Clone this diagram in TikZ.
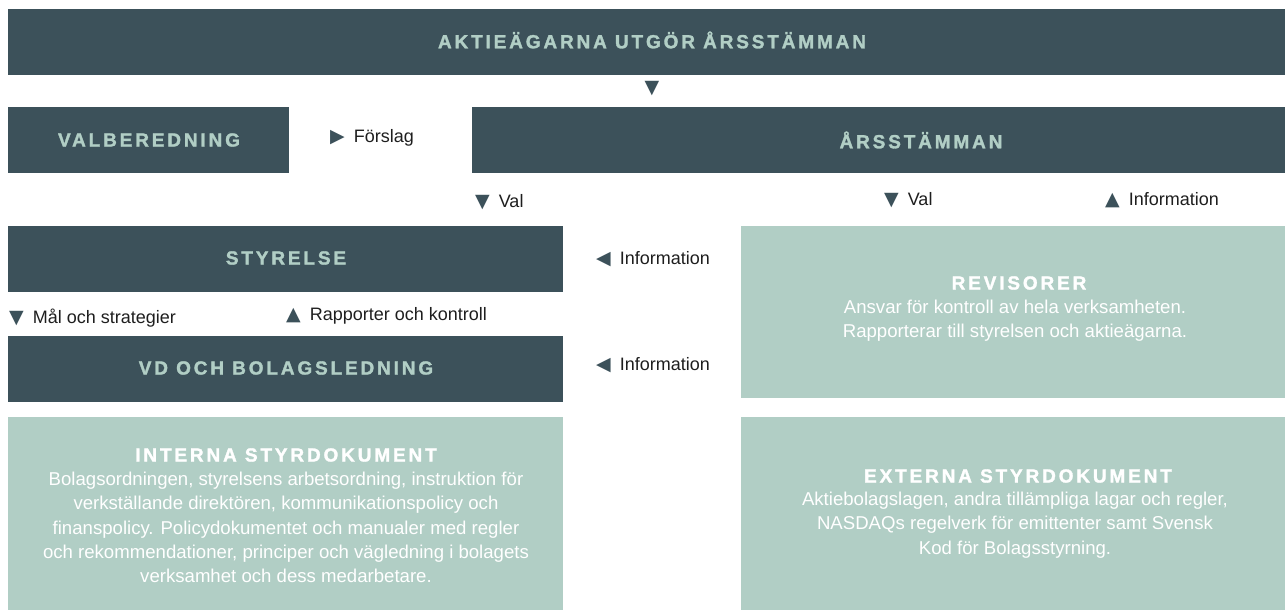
\documentclass[tikz,border=0pt]{standalone}
\usepackage{fontspec}
\setmainfont{Liberation Sans}
\newfontfamily\headfont[LetterSpace=15, FakeBold=1.6]{Liberation Sans Bold}
\newfontfamily\symfont{DejaVu Sans}
\definecolor{darkbox}{HTML}{3C515A}
\definecolor{lightbox}{HTML}{B1CEC5}
\definecolor{headlight}{HTML}{B1CEC5}
\definecolor{labeltext}{HTML}{1E1E1E}
\tikzset{
  darkrect/.style={fill=darkbox, inner sep=0pt, outer sep=0pt},
  lightrect/.style={fill=lightbox, inner sep=0pt, outer sep=0pt},
  darkhead/.style={text=headlight, font=\headfont\fontsize{19}{22}\selectfont, inner sep=0pt},
  lighthead/.style={text=white, font=\headfont\fontsize{19}{22}\selectfont, inner sep=0pt},
  bodytext/.style={text=white, font=\fontsize{18.6}{24.2}\selectfont, align=center, inner sep=0pt},
  lbl/.style={text=labeltext, font=\fontsize{18}{20}\selectfont, inner sep=0pt, anchor=west},
  tri/.style={text=darkbox, font=\symfont\fontsize{19}{19}\selectfont, inner sep=0pt},
}
\newcommand{\dn}{{\color{darkbox}\symfont\fontsize{19}{19}\selectfont ▼}\hspace{9pt}}
\newcommand{\up}{{\color{darkbox}\symfont\fontsize{19}{19}\selectfont ▲}\hspace{9pt}}
\newcommand{\rt}{{\color{darkbox}\symfont\fontsize{19}{19}\selectfont ▶}\hspace{9pt}}
\newcommand{\lf}{{\color{darkbox}\symfont\fontsize{19}{19}\selectfont ◀}\hspace{9pt}}
\begin{document}
\begin{tikzpicture}[x=1pt,y=-1pt]
\useasboundingbox (0,0) rectangle (1285,611);
% boxes
\node[darkrect, minimum width=1277pt, minimum height=66pt] (top) at (646.5,42) {};
\node[darkrect, minimum width=281pt, minimum height=66pt] (valb) at (148.5,140) {};
\node[darkrect, minimum width=813pt, minimum height=66pt] (arss) at (878.5,140) {};
\node[darkrect, minimum width=555pt, minimum height=66pt] (styr) at (285.5,259) {};
\node[darkrect, minimum width=555pt, minimum height=66pt] (vd) at (285.5,369) {};
\node[lightrect, minimum width=544pt, minimum height=172pt] (rev) at (1013,312) {};
\node[lightrect, minimum width=555pt, minimum height=193pt] (int) at (285.5,513.5) {};
\node[lightrect, minimum width=544pt, minimum height=193pt] (ext) at (1013,513.5) {};
% headings in dark boxes
\node[darkhead] (topt) at (652,40) {AKTIEÄGARNA UTGÖR ÅRSSTÄMMAN};
\node[darkhead] (valbt) at (149,140) {VALBEREDNING};
\node[darkhead] (arsst) at (921,140) {ÅRSSTÄMMAN};
\node[darkhead] (styrt) at (286,258) {STYRELSE};
\node[darkhead] (vdt) at (286,368) {VD OCH BOLAGSLEDNING};
% light boxes
\node[lighthead] (revt) at (1019,283) {REVISORER};
\node[bodytext, anchor=north] (revb) at (1015,300) {Ansvar för kontroll av hela verksamheten.\\Rapporterar till styrelsen och aktieägarna.};
\node[lighthead] (intt) at (286,455) {INTERNA STYRDOKUMENT};
\node[bodytext, anchor=north] (intb) at (286,472) {Bolagsordningen, styrelsens arbetsordning, instruktion för\\verkställande direktören, kommunikationspolicy och\\finanspolicy. Policydokumentet och manualer med regler\\och rekommendationer, principer och vägledning i bolagets\\verksamhet och dess medarbetare.};
\node[lighthead] (extt) at (1018,476) {EXTERNA STYRDOKUMENT};
\node[bodytext, anchor=north] (extb) at (1015,492) {Aktiebolagslagen, andra tillämpliga lagar och regler,\\NASDAQs regelverk för emittenter samt Svensk\\Kod för Bolagsstyrning.};
% labels
\node[tri] (t0) at (652,89) {▼};
\node[lbl] (forslag) at (330,138) {\rt Förslag};
\node[lbl] (val1) at (475,202) {\dn Val};
\node[lbl] (val2) at (884,200) {\dn Val};
\node[lbl] (info1) at (1105,200) {\up Information};
\node[lbl] (info2) at (596,259) {\lf Information};
\node[lbl] (mal) at (9,318) {\dn Mål och strategier};
\node[lbl] (rapp) at (286,316) {\up Rapporter och kontroll};
\node[lbl] (info3) at (596,365) {\lf Information};
\end{tikzpicture}
\end{document}
